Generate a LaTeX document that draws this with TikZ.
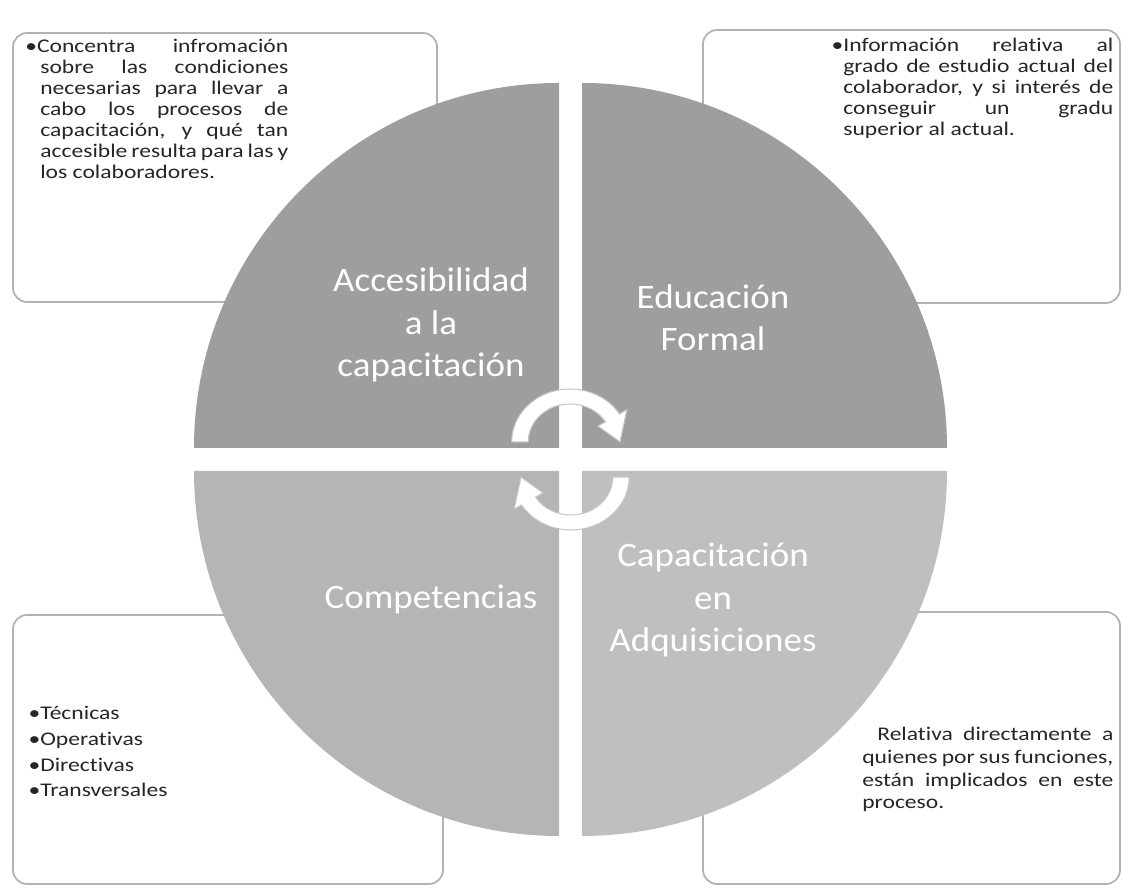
\documentclass[tikz,border=0pt]{standalone}
\usepackage{fontspec}
\setmainfont{Carlito}
\newfontfamily\boxfont[FakeStretch=1.22, Ligatures=NoCommon]{Carlito}
\newfontfamily\quadfont[FakeStretch=1.08, Ligatures=NoCommon]{Carlito}
\definecolor{quadtop}{gray}{0.62}
\definecolor{quadbot}{gray}{0.71}
\definecolor{quadbotr}{gray}{0.75}
\definecolor{boxink}{gray}{0.15}

\begin{document}
\begin{tikzpicture}[
    x=0.02cm, y=0.02cm,
    infobox/.style={draw=gray!60, line width=1pt, rounded corners=8pt, fill=white},
    boxtext/.style={inner sep=0pt, text=boxink, font={\boxfont\fontsize{11}{11.95}\selectfont}},
    quadlabel/.style={align=center, anchor=base, text=white, inner sep=0pt, font={\quadfont\fontsize{19.5}{24.4}\selectfont}},
    cyclearrow/.style={fill=white, draw=gray!45, line width=0.6pt}
]
\useasboundingbox (0,0) rectangle (1123,888);

% Info boxes behind the circle
\draw[infobox] (13,855) rectangle (437,586);
\draw[infobox] (703,858) rectangle (1120,585);
\draw[infobox] (13,273) rectangle (443,4);
\draw[infobox] (703,276) rectangle (1120,4);

% Box texts
\node[boxtext, text width=4.96cm, align=justify, anchor=base west] (accText) at (40,835)
    {\hspace*{-0.3cm}\textbullet Concentra infromación\linebreak sobre las condiciones\linebreak necesarias para llevar a\linebreak cabo los procesos de\linebreak capacitación, y qué tan\linebreak accesible resulta para las y\linebreak los colaboradores.};
\node[boxtext, text width=5.4cm, align=justify, anchor=base west] (eduText) at (843,836)
    {\llap{\textbullet}Información relativa al\linebreak grado de estudio actual del\linebreak colaborador, y si interés de\linebreak conseguir un gradu\linebreak superior al actual.};
\node[boxtext, align=left, anchor=base west, font={\boxfont\fontsize{11}{14.75}\selectfont}] (compText) at (40,91)
    {\llap{\textbullet}Técnicas\\\llap{\textbullet}Operativas\\\llap{\textbullet}Directivas\\\llap{\textbullet}Transversales};
\node[boxtext, text width=5.02cm, align=justify, anchor=base west, font={\boxfont\fontsize{11}{12.9}\selectfont}] (adqText) at (862,147)
    {\hspace*{0.3cm}Relativa directamente a\linebreak quienes por sus funciones,\linebreak están implicados en este\linebreak proceso.};

% Quarter circles
\fill[quadtop] (559,440) -- (194,440) arc[start angle=180, end angle=90, radius=365] -- cycle;
\fill[quadtop] (582,440) -- (582,805) arc[start angle=90, end angle=0, radius=365] -- cycle;
\fill[quadbot] (559,417) -- (194,417) arc[start angle=180, end angle=270, radius=365] -- cycle;
\fill[quadbotr] (582,417) -- (947,417) arc[start angle=0, end angle=-90, radius=365] -- cycle;

% Quadrant labels (anchored at the last baseline)
\node[quadlabel] (accLabel) at (431,511) {Accesibilidad\\a la\\capacitación};
\node[quadlabel] (eduLabel) at (713,537) {Educación\\Formal};
\node[quadlabel] (compLabel) at (431,279) {Competencias};
\node[quadlabel] (adqLabel) at (713,236) {Capacitación\\en\\Adquisiciones};

% Cycle arrows in the middle
\begin{scope}[shift={(570,446)}, xscale=1.1]
\draw[cyclearrow] (180:53) arc[start angle=180, end angle=32, radius=53]
    -- (32:61) -- (0:45.5) -- (32:30) -- (32:38)
    arc[start angle=32, end angle=180, radius=38] -- cycle;
\end{scope}
\begin{scope}[shift={(571,411)}, rotate=180, xscale=1.1]
\draw[cyclearrow] (180:53) arc[start angle=180, end angle=32, radius=53]
    -- (32:61) -- (0:45.5) -- (32:30) -- (32:38)
    arc[start angle=32, end angle=180, radius=38] -- cycle;
\end{scope}

\end{tikzpicture}
\end{document}
